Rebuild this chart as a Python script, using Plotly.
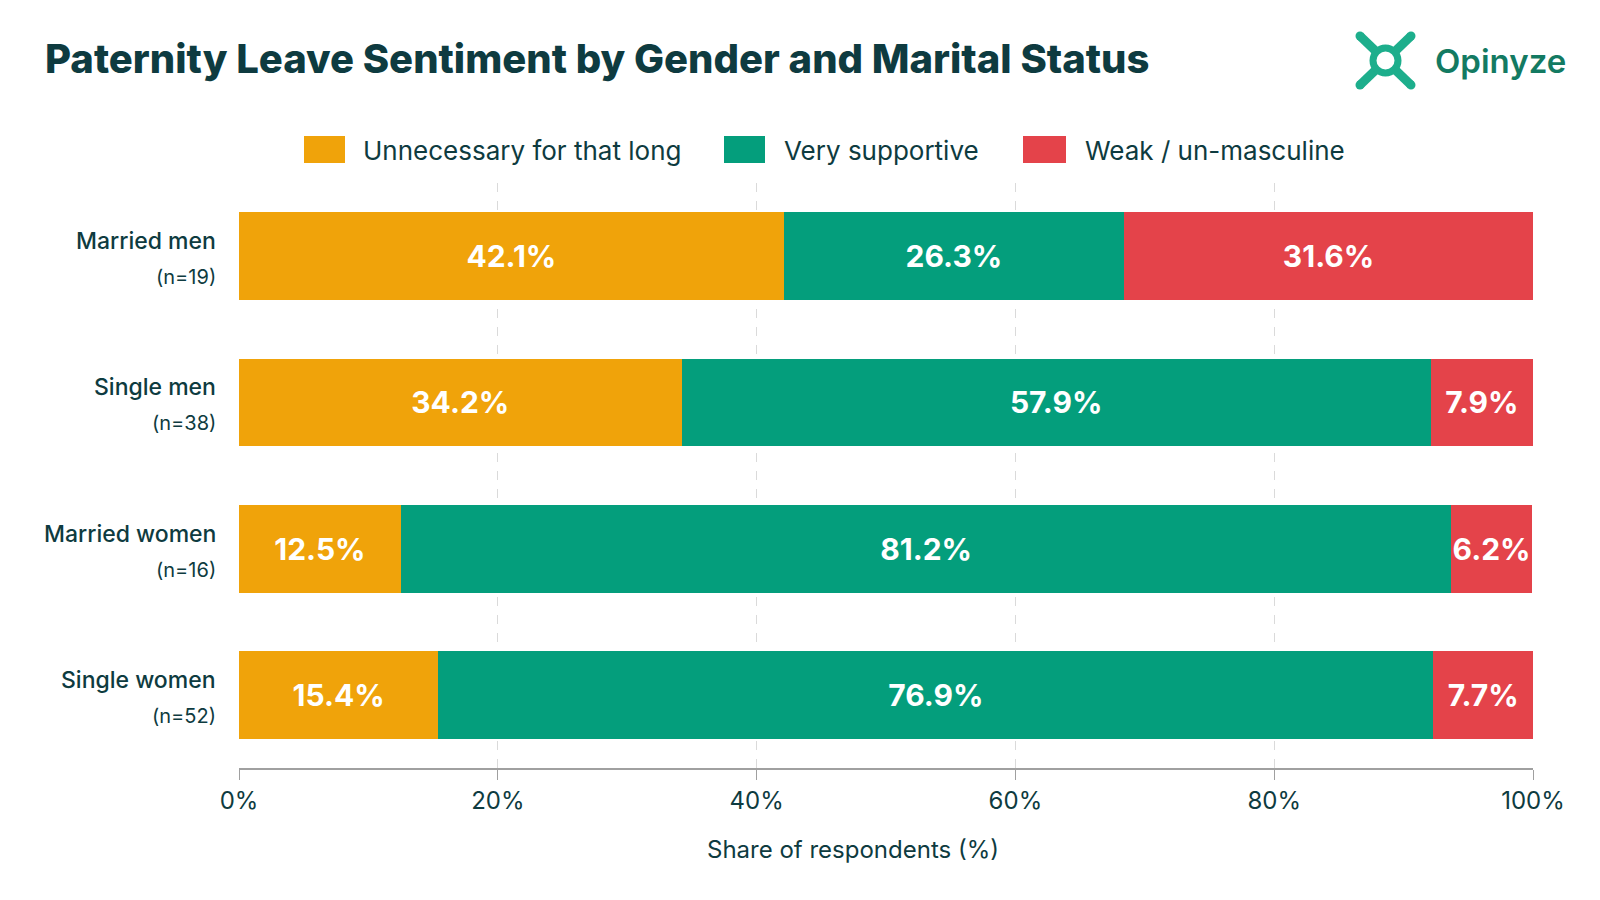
import plotly.graph_objects as go

# ---------------- data ----------------
groups = ["Married men", "Single men", "Married women", "Single women"]
sample_sizes = ["19", "38", "16", "52"]
unnecessary = [42.1, 34.2, 12.5, 15.4]
supportive = [26.3, 57.9, 81.2, 76.9]
weak = [31.6, 7.9, 6.2, 7.7]
series_names = ["Unnecessary for that long", "Very supportive", "Weak / un-masculine"]
x_ticks = [0, 20, 40, 60, 80, 100]
x_tick_labels = ["0%", "20%", "40%", "60%", "80%", "100%"]

# ---------------- style ----------------
COLORS = ["#F0A30A", "#049E7C", "#E4434A"]
DARK = "#0E3B40"
FONT = "Inter"
W, H = 1600, 900
L, R, T, B = 239, 67, 183, 132
PW, PH = W - L - R, H - T - B


def px(x):
    return (x - L) / PW


def py(y):
    return (H - B - y) / PH


fig = go.Figure()
for name, vals, col in zip(series_names, [unnecessary, supportive, weak], COLORS):
    fig.add_trace(go.Bar(
        y=groups, x=vals, name=name, orientation="h",
        marker=dict(color=col, line=dict(width=0)),
        text=[f"{v:.1f}%" for v in vals],
        texttemplate="%{text}",
        textposition="inside", insidetextanchor="middle", textangle=0,
        constraintext="none",
        textfont=dict(family=FONT, size=30, color="white", weight=700),
        hoverinfo="skip", showlegend=False,
    ))

shapes = []
annotations = []

# manual legend (large swatches)
legend_items = [(304, 345, 361), (724, 765, 782), (1023, 1066, 1083)]
for (x0, x1, tx), name, col in zip(legend_items, series_names, COLORS):
    shapes.append(dict(type="rect", xref="paper", yref="paper",
                       x0=px(x0), x1=px(x1), y0=py(163), y1=py(136),
                       fillcolor=col, line=dict(width=0), layer="above"))
    annotations.append(dict(xref="paper", yref="paper", x=px(tx), y=py(150),
                            xanchor="left", yanchor="middle", showarrow=False,
                            text=name, font=dict(family=FONT, size=26, color=DARK)))

# category labels
for g, n in zip(groups, sample_sizes):
    annotations.append(dict(xref="paper", yref="y", x=0, y=g, xshift=-21, yshift=15,
                            xanchor="right", yanchor="middle", showarrow=False,
                            text=g, font=dict(family=FONT, size=23, color=DARK, weight=500)))
    annotations.append(dict(xref="paper", yref="y", x=0, y=g, xshift=-21, yshift=-21,
                            xanchor="right", yanchor="middle", showarrow=False,
                            text=f"(n={n})", font=dict(family=FONT, size=20, color=DARK)))

# logo
LOGO = "#1DAE8C"
for (a, b), (c, d) in [((1360, 36), (1411, 85)), ((1411, 36), (1360, 85))]:
    shapes.append(dict(type="line", xref="paper", yref="paper",
                       x0=px(a), y0=py(b), x1=px(c), y1=py(d),
                       line=dict(color=LOGO, width=9), layer="above"))
    for (ex, ey) in [(a, b), (c, d)]:
        shapes.append(dict(type="circle", xref="paper", yref="paper",
                           x0=px(ex - 4.5), x1=px(ex + 4.5), y0=py(ey + 4.5), y1=py(ey - 4.5),
                           fillcolor=LOGO, line=dict(width=0), layer="above"))
cx, cy, r = 1385.5, 60.5, 12.5
shapes.append(dict(type="circle", xref="paper", yref="paper",
                   x0=px(cx - r), x1=px(cx + r), y0=py(cy + r), y1=py(cy - r),
                   fillcolor="white", line=dict(color=LOGO, width=7), layer="above"))
annotations.append(dict(xref="paper", yref="paper", x=px(1433), y=py(61),
                        xanchor="left", yanchor="middle", showarrow=False,
                        text="Opinyze", font=dict(family=FONT, size=33, color="#137A62", weight=600)))

# axis title
annotations.append(dict(xref="paper", yref="paper", x=px(853), y=py(849),
                        xanchor="center", yanchor="middle", showarrow=False,
                        text="Share of respondents (%)", font=dict(family=FONT, size=24, color=DARK)))

fig.update_layout(
    width=W, height=H,
    margin=dict(l=L, r=R, t=T, b=B, pad=0),
    paper_bgcolor="white", plot_bgcolor="white",
    barmode="stack", bargap=0.4,
    title=dict(text="Paternity Leave Sentiment by Gender and Marital Status",
               x=45 / W, xanchor="left", y=1 - 59 / H, yanchor="middle",
               font=dict(family=FONT, size=40, color=DARK, weight=800)),
    shapes=shapes, annotations=annotations,
    xaxis=dict(range=[0, 100], tickvals=x_ticks, ticktext=x_tick_labels,
               showgrid=True, gridcolor="#DADADA", griddash="dash", gridwidth=1,
               zeroline=False, showline=True, linecolor="#A0A0A0", linewidth=2,
               ticks="outside", ticklen=10, tickcolor="#A0A0A0", tickwidth=1,
               ticklabelstandoff=0,
               tickfont=dict(family=FONT, size=24, color=DARK), fixedrange=True),
    yaxis=dict(categoryorder="array", categoryarray=groups, autorange="reversed",
               showticklabels=False, showgrid=False, zeroline=False, fixedrange=True),
    showlegend=False,
)

fig.write_html("out.html")
